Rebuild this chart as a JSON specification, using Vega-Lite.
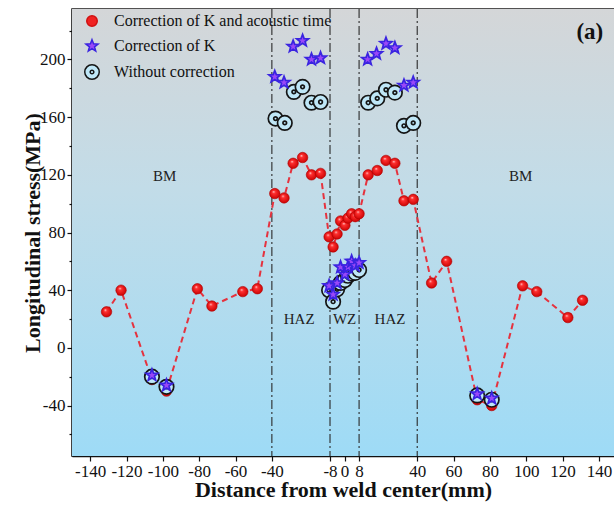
{
  "$schema": "https://vega.github.io/schema/vega-lite/v6.json",
  "width": 542,
  "height": 447,
  "autosize": {"type": "none"},
  "padding": {"left": 72, "top": 9, "right": 0, "bottom": 52},
  "background": "white",
  "config": {
    "font": "Liberation Serif",
    "view": {"stroke": "#1a1a1a", "strokeWidth": 1.5},
    "axis": {"domainColor": "#111", "domainWidth": 1.5, "tickColor": "#111", "tickWidth": 1.2, "labelColor": "#111", "titleColor": "#111", "grid": false, "labelFont": "Liberation Serif", "titleFont": "Liberation Serif", "labelOverlap": false, "labelFlush": false}
  },
  "datasets": {
    "pts": [
      {"x": -131, "y": 25, "series": "Correction of K and acoustic time"},
      {"x": -123, "y": 40, "series": "Correction of K and acoustic time"},
      {"x": -106, "y": -22, "series": "Correction of K and acoustic time"},
      {"x": -98, "y": -30, "series": "Correction of K and acoustic time"},
      {"x": -81, "y": 41, "series": "Correction of K and acoustic time"},
      {"x": -73, "y": 29, "series": "Correction of K and acoustic time"},
      {"x": -56, "y": 39, "series": "Correction of K and acoustic time"},
      {"x": -48, "y": 41, "series": "Correction of K and acoustic time"},
      {"x": -38.4, "y": 107, "series": "Correction of K and acoustic time"},
      {"x": -33.3, "y": 104, "series": "Correction of K and acoustic time"},
      {"x": -28.3, "y": 128, "series": "Correction of K and acoustic time"},
      {"x": -23.1, "y": 132, "series": "Correction of K and acoustic time"},
      {"x": -18.2, "y": 120, "series": "Correction of K and acoustic time"},
      {"x": -13.2, "y": 121, "series": "Correction of K and acoustic time"},
      {"x": -8.5, "y": 77, "series": "Correction of K and acoustic time"},
      {"x": -6.3, "y": 70, "series": "Correction of K and acoustic time"},
      {"x": -4.1, "y": 79, "series": "Correction of K and acoustic time"},
      {"x": -2.2, "y": 88, "series": "Correction of K and acoustic time"},
      {"x": 0.2, "y": 85, "series": "Correction of K and acoustic time"},
      {"x": 1.9, "y": 90, "series": "Correction of K and acoustic time"},
      {"x": 3.9, "y": 93, "series": "Correction of K and acoustic time"},
      {"x": 5.9, "y": 91, "series": "Correction of K and acoustic time"},
      {"x": 8, "y": 93, "series": "Correction of K and acoustic time"},
      {"x": 13, "y": 120, "series": "Correction of K and acoustic time"},
      {"x": 18, "y": 123, "series": "Correction of K and acoustic time"},
      {"x": 22.8, "y": 130, "series": "Correction of K and acoustic time"},
      {"x": 27.7, "y": 128, "series": "Correction of K and acoustic time"},
      {"x": 32.7, "y": 102, "series": "Correction of K and acoustic time"},
      {"x": 37.8, "y": 103, "series": "Correction of K and acoustic time"},
      {"x": 47.9, "y": 45, "series": "Correction of K and acoustic time"},
      {"x": 56.2, "y": 60, "series": "Correction of K and acoustic time"},
      {"x": 73, "y": -36, "series": "Correction of K and acoustic time"},
      {"x": 81, "y": -40, "series": "Correction of K and acoustic time"},
      {"x": 98, "y": 43, "series": "Correction of K and acoustic time"},
      {"x": 105.8, "y": 39, "series": "Correction of K and acoustic time"},
      {"x": 122.9, "y": 21, "series": "Correction of K and acoustic time"},
      {"x": 131, "y": 33, "series": "Correction of K and acoustic time"},
      {"x": -106, "y": -20, "series": "Without correction"},
      {"x": -98, "y": -27, "series": "Without correction"},
      {"x": 73, "y": -33, "series": "Without correction"},
      {"x": 81, "y": -36, "series": "Without correction"},
      {"x": -38, "y": 159, "series": "Without correction"},
      {"x": -32.9, "y": 156, "series": "Without correction"},
      {"x": -27.9, "y": 177.5, "series": "Without correction"},
      {"x": -23.1, "y": 181, "series": "Without correction"},
      {"x": -18.2, "y": 170, "series": "Without correction"},
      {"x": -13.2, "y": 170.5, "series": "Without correction"},
      {"x": 13, "y": 170, "series": "Without correction"},
      {"x": 18, "y": 173, "series": "Without correction"},
      {"x": 22.8, "y": 179, "series": "Without correction"},
      {"x": 27.7, "y": 177, "series": "Without correction"},
      {"x": 32.7, "y": 154, "series": "Without correction"},
      {"x": 37.8, "y": 156, "series": "Without correction"},
      {"x": -8.5, "y": 40, "series": "Without correction"},
      {"x": -6.3, "y": 32, "series": "Without correction"},
      {"x": -4.1, "y": 40.6, "series": "Without correction"},
      {"x": -2.2, "y": 45, "series": "Without correction"},
      {"x": 0.2, "y": 47, "series": "Without correction"},
      {"x": 1.9, "y": 50, "series": "Without correction"},
      {"x": 3.9, "y": 51.5, "series": "Without correction"},
      {"x": 5.9, "y": 52, "series": "Without correction"},
      {"x": 8, "y": 54, "series": "Without correction"},
      {"x": -106, "y": -19, "series": "Correction of K"},
      {"x": -98, "y": -26, "series": "Correction of K"},
      {"x": 73, "y": -32, "series": "Correction of K"},
      {"x": 81, "y": -35, "series": "Correction of K"},
      {"x": -38.4, "y": 188, "series": "Correction of K"},
      {"x": -33.3, "y": 184, "series": "Correction of K"},
      {"x": -28.3, "y": 209, "series": "Correction of K"},
      {"x": -23.1, "y": 213, "series": "Correction of K"},
      {"x": -18.2, "y": 200, "series": "Correction of K"},
      {"x": -13.2, "y": 201, "series": "Correction of K"},
      {"x": 12.7, "y": 200, "series": "Correction of K"},
      {"x": 17.6, "y": 204, "series": "Correction of K"},
      {"x": 22.8, "y": 211, "series": "Correction of K"},
      {"x": 27.7, "y": 208, "series": "Correction of K"},
      {"x": 32.7, "y": 182, "series": "Correction of K"},
      {"x": 37.8, "y": 184, "series": "Correction of K"},
      {"x": -8.5, "y": 43, "series": "Correction of K"},
      {"x": -6.3, "y": 37, "series": "Correction of K"},
      {"x": -4.1, "y": 45, "series": "Correction of K"},
      {"x": -2.2, "y": 56, "series": "Correction of K"},
      {"x": 0.2, "y": 51, "series": "Correction of K"},
      {"x": 1.9, "y": 56, "series": "Correction of K"},
      {"x": 3.9, "y": 60, "series": "Correction of K"},
      {"x": 5.9, "y": 57, "series": "Correction of K"},
      {"x": 8, "y": 59, "series": "Correction of K"}
    ],
    "zones": [{"x": -40}, {"x": -8}, {"x": 8}, {"x": 40}],
    "labels": [
      {"x": -99, "y": 119, "label": "BM"},
      {"x": 97, "y": 119, "label": "BM"},
      {"x": -25, "y": 20, "label": "HAZ"},
      {"x": 0, "y": 20, "label": "WZ"},
      {"x": 25, "y": 20, "label": "HAZ"}
    ],
    "panel": [{"x": 135, "y": 219, "label": "(a)"}],
    "one": [{}]
  },
  "resolve": {"axis": {"x": "independent", "y": "independent"}},
  "layer": [
    {
      "data": {"name": "one"},
      "mark": {"type": "rect",
        "color": {"gradient": "linear", "x1": 0, "y1": 0, "x2": 0, "y2": 1,
          "stops": [{"offset": 0, "color": "#d4d6d8"}, {"offset": 0.4, "color": "#c2dce8"}, {"offset": 1, "color": "#9edbf6"}]}},
      "encoding": {}
    },
    {
      "data": {"name": "zones"},
      "mark": {"type": "rule", "color": "#2a2a2a", "strokeWidth": 1.1, "strokeDash": [9, 3, 2, 3]},
      "encoding": {
        "x": {"field": "x", "type": "quantitative",
          "scale": {"domain": [-150, 148.3], "nice": false, "zero": false},
          "axis": {"orient": "bottom", "values": [-140, -120, -100, -80, -60, -40, -8, 0, 8, 40, 60, 80, 100, 120, 140],
            "labelExpr": "'' + datum.value",
            "title": "Distance from weld center(mm)", "titleFontSize": 22, "titleFontWeight": "bold", "titlePadding": 0,
            "labelFontSize": 17, "labelOverlap": false, "labelFlush": false, "labelBound": false, "labelSeparation": 0, "tickSize": 5, "labelPadding": 2}}
      }
    },
    {
      "data": {"name": "pts"},
      "transform": [{"filter": "datum.series === 'Correction of K and acoustic time'"}],
      "mark": {"type": "line", "color": "#e5323e", "strokeWidth": 2, "strokeDash": [6, 4]},
      "encoding": {
        "x": {"field": "x", "type": "quantitative", "axis": null},
        "y": {"field": "y", "type": "quantitative", "axis": null}
      }
    },
    {
      "data": {"name": "pts"},
      "transform": [{"filter": "datum.series === 'Correction of K and acoustic time'"}],
      "mark": {"type": "circle", "size": 110, "opacity": 1, "strokeWidth": 0.6, "stroke": "#b00000",
        "color": {"gradient": "radial", "x1": 0.38, "y1": 0.32, "r1": 0, "x2": 0.5, "y2": 0.5, "r2": 0.55,
          "stops": [{"offset": 0, "color": "#ffe6e6"}, {"offset": 0.25, "color": "#ff3030"}, {"offset": 1, "color": "#c80000"}]}},
      "encoding": {
        "x": {"field": "x", "type": "quantitative", "axis": null},
        "y": {"field": "y", "type": "quantitative", "axis": null}
      }
    },
    {
      "data": {"name": "pts"},
      "transform": [{"filter": "datum.series !== 'Correction of K and acoustic time'"}],
      "mark": {"type": "point", "filled": true, "opacity": 1, "strokeWidth": 1.7},
      "encoding": {
        "x": {"field": "x", "type": "quantitative", "axis": null},
        "y": {"field": "y", "type": "quantitative",
          "scale": {"domain": [-75, 235], "nice": false, "zero": false},
          "axis": {"values": [-40, 0, 40, 80, 120, 160, 200], "orient": "left", "labelExpr": "'' + datum.value",
            "title": "Longitudinal stress(MPa)", "titleFontSize": 22, "titleFontWeight": "bold", "titlePadding": -5,
            "labelFontSize": 17, "tickSize": 5, "labelPadding": 2}},
        "shape": {"field": "series", "type": "nominal",
          "scale": {"domain": ["Correction of K and acoustic time", "Correction of K", "Without correction"],
            "range": ["circle", "M0,-1L0.247,-0.34L0.951,-0.309L0.399,0.13L0.588,0.809L0,0.42L-0.588,0.809L-0.399,0.13L-0.951,-0.309L-0.247,-0.34Z", "M-1,0A1,1,0,1,0,1,0A1,1,0,1,0,-1,0Z M-0.25,0A0.25,0.25,0,1,0,0.25,0A0.25,0.25,0,1,0,-0.25,0Z"]},
          "legend": {"title": null, "orient": "none", "legendX": 12, "legendY": 4, "labelFontSize": 16, "labelFont": "Liberation Serif", "labelColor": "#111", "labelLimit": 0, "rowPadding": 6, "labelOffset": 14, "symbolStrokeWidth": 1.5}},
        "fill": {"field": "series", "type": "nominal",
          "scale": {"domain": ["Correction of K and acoustic time", "Correction of K", "Without correction"],
            "range": ["#f02222", "#9a48f8", "#bfe7f7"]},
          "legend": {"title": null, "orient": "none", "legendX": 12, "legendY": 4, "labelFontSize": 16, "labelFont": "Liberation Serif", "labelColor": "#111", "labelLimit": 0, "rowPadding": 6, "labelOffset": 14, "symbolStrokeWidth": 1.5}},
        "stroke": {"field": "series", "type": "nominal",
          "scale": {"domain": ["Correction of K and acoustic time", "Correction of K", "Without correction"],
            "range": ["#d01010", "#3a24e0", "#151515"]},
          "legend": {"title": null, "orient": "none", "legendX": 12, "legendY": 4, "labelFontSize": 16, "labelFont": "Liberation Serif", "labelColor": "#111", "labelLimit": 0, "rowPadding": 6, "labelOffset": 14, "symbolStrokeWidth": 1.5}},
        "size": {"field": "series", "type": "nominal",
          "scale": {"domain": ["Correction of K and acoustic time", "Correction of K", "Without correction"],
            "range": [110, 210, 100]},
          "legend": {"title": null, "orient": "none", "legendX": 12, "legendY": 4, "labelFontSize": 16, "labelFont": "Liberation Serif", "labelColor": "#111", "labelLimit": 0, "rowPadding": 6, "labelOffset": 14, "symbolStrokeWidth": 1.5}}
      }
    },
    {
      "data": {"name": "labels"},
      "mark": {"type": "text", "fontSize": 15, "font": "Liberation Serif", "color": "#222"},
      "encoding": {
        "x": {"field": "x", "type": "quantitative", "axis": null},
        "y": {"field": "y", "type": "quantitative",
          "axis": {"values": [-60, -20, 20, 60, 100, 140, 180, 220], "orient": "left", "labels": false, "domain": false, "title": null, "tickSize": 3}},
        "text": {"field": "label"}
      }
    },
    {
      "data": {"name": "panel"},
      "mark": {"type": "text", "fontSize": 23, "fontWeight": "bold", "font": "Liberation Serif", "color": "#111"},
      "encoding": {
        "x": {"field": "x", "type": "quantitative", "axis": null},
        "y": {"field": "y", "type": "quantitative", "axis": null},
        "text": {"field": "label"}
      }
    }
  ]
}
